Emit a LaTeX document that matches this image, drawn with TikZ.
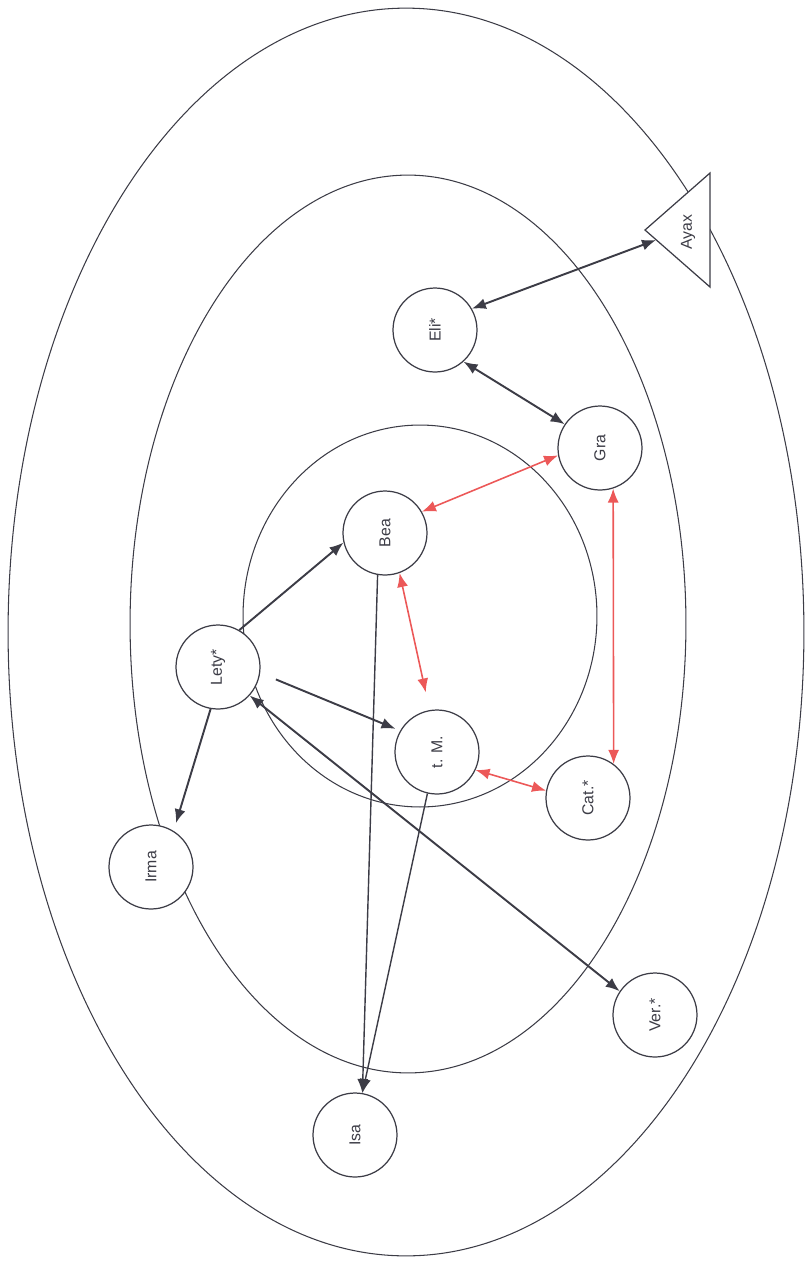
\documentclass[tikz,border=0pt]{standalone}
\usepackage{fontspec}
\setmainfont{Liberation Sans}
\usepackage{graphicx}
\usetikzlibrary{arrows.meta}
\definecolor{inkgray}{RGB}{60,60,70}
\definecolor{tiered}{RGB}{236,88,88}

\begin{document}
\begin{tikzpicture}[
  x=0.02cm, y=-0.02cm,
  >={Latex[length=2.8mm,width=2.2mm]},
  person/.style={circle, draw=inkgray, fill=white, line width=0.7pt,
                 minimum size=1.68cm, inner sep=0pt,
                 font=\fontsize{9}{10}\selectfont, text=inkgray},
  ring/.style={draw=inkgray, line width=0.6pt},
  rel/.style={<->, line width=1.1pt, inkgray},
  lnk/.style={->, line width=1.1pt, inkgray},
  tie/.style={<->, line width=0.9pt, tiered},
]

\useasboundingbox (0,0) rectangle (810,1262);

% the three zones
\draw[ring] (406,632) ellipse [x radius=7.96cm, y radius=12.48cm];
\draw[ring] (408,624) ellipse [x radius=5.56cm, y radius=8.98cm];
\draw[ring] (420,616) ellipse [x radius=3.54cm, y radius=3.82cm];

% people
\node[person] (eli)  at (435,330)  {\rotatebox{90}{Eli*}};
\node[person] (gra)  at (600,448)  {\rotatebox{90}{Gra}};
\node[person] (bea)  at (385,533)  {\rotatebox{90}{Bea}};
\node[person] (lety) at (218,667)  {\rotatebox{90}{Lety*}};
\node[person] (tm)   at (437,752)  {\rotatebox{90}{t. M.}};
\node[person] (cat)  at (588,798)  {\rotatebox{90}{Cat.*}};
\node[person] (irma) at (151,867)  {\rotatebox{90}{Irma}};
\node[person] (ver)  at (655,1015) {\rotatebox{90}{Ver.*}};
\node[person] (isa)  at (355,1135) {\rotatebox{90}{Isa}};

% Ayax
\draw[ring, fill=white, line width=0.7pt] (645,230) -- (710,173) -- (710,287) -- cycle;
\node[font=\fontsize{9}{10}\selectfont, text=inkgray] (ayax) at (688,232) {\rotatebox{90}{Ayax}};
\coordinate (ayaxin) at (656,240);

% relations
\draw[rel] (eli.30) -- (ayaxin);
\draw[rel] (eli.-48) -- (gra.146);
\draw[rel] (lety.-42) -- (ver.146);
\draw[lnk] (lety.60) -- (bea.193);
\draw[lnk, shorten <=0.34cm, shorten >=0.1cm] (lety.-8) -- (tm.150);
\draw[lnk, shorten >=0.16cm] (lety.-100) -- (irma.58);
\draw[lnk, line width=0.8pt] (bea.-100) -- (isa.80);
\draw[lnk, line width=0.8pt] (tm.-103) -- (isa.80);

% close ties
\draw[tie] (bea.30) -- (gra.190);
\draw[tie, shorten >=0.36cm] (bea.-70) -- (tm.100);
\draw[tie] (gra.-72) -- (cat.53);
\draw[tie] (tm.-25) -- (cat.170);

\end{tikzpicture}
\end{document}
